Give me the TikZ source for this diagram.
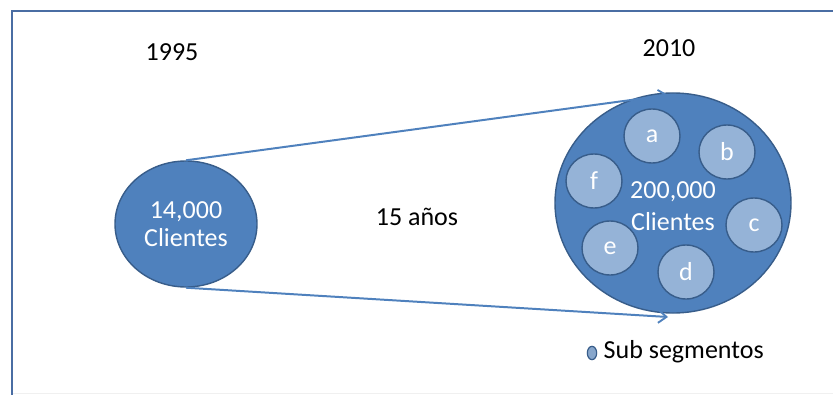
\documentclass[tikz,border=0pt]{standalone}
\usepackage{fontspec}
\setmainfont{Carlito}
\usetikzlibrary{shapes.geometric,arrows.meta}
\definecolor{mainblue}{HTML}{4F81BD}
\definecolor{darkblue}{HTML}{385D8A}
\definecolor{lightblue}{HTML}{95B3D7}
\definecolor{framecol}{HTML}{4A6DA3}
\tikzset{
  circ/.style={ellipse, draw=darkblue, line width=1.2pt, fill=mainblue, text=white, inner sep=0pt, align=center},
  sub/.style={ellipse, draw=darkblue, line width=1.2pt, fill=lightblue, text=white, inner sep=0pt, minimum width=1.68cm, minimum height=1.62cm, font=\fontsize{22.2}{24}\selectfont},
  conn/.style={draw=mainblue, line width=1.7pt, -{Straight Barb[length=7pt,width=11pt,line width=1.6pt]}},
  lbl/.style={text=black, font=\fontsize{22.2}{24}\selectfont}
}
\begin{document}
\begin{tikzpicture}[x=0.03cm,y=-0.03cm]
\useasboundingbox (0,0) rectangle (833,395);
% frame
\draw[framecol, line width=2.4pt] (12,395) -- (12,11) -- (833,11);
\draw[black!6, line width=1pt] (13,393.5) -- (833,393.5);
% labels
\node[lbl] (y1995) at (172,52) {1995};
\node[lbl] (y2010) at (669,48) {2010};
\node[lbl] (years) at (417,217) {15 años};
% ellipses
\node[circ, minimum width=4.26cm, minimum height=3.78cm, font=\fontsize{22.2}{24}\selectfont] (small) at (186,224) {14,000\\Clientes};
\node[circ, minimum width=7.08cm, minimum height=6.6cm] (big) at (673,203) {};
\node[sub] (a) at (652,136) {a};
\node[sub] (b) at (727,152) {b};
\node[sub] (f) at (594,181) {f};
\node[sub] (c) at (754,225) {c};
\node[sub] (e) at (610,248) {e};
\node[sub] (d) at (686,272) {d};
\node[text=white, align=center, font=\fontsize{22.2}{27.3}\selectfont] (bigtext) at (673,206) {200,000\\Clientes};
% connectors
\coordinate (t1) at (668,95);
\coordinate (t2) at (668,317);
\draw[conn] (small.north) -- (t1);
\draw[conn] (small.south) -- (t2);
% legend
\node[ellipse, draw=darkblue, line width=1pt, fill=lightblue!85!darkblue, minimum width=0.28cm, minimum height=0.4cm, inner sep=0pt] (leg) at (592,353) {};
\node[lbl, anchor=west, inner sep=0pt] (legtext) at (603.5,352) {Sub segmentos};
\end{tikzpicture}
\end{document}
